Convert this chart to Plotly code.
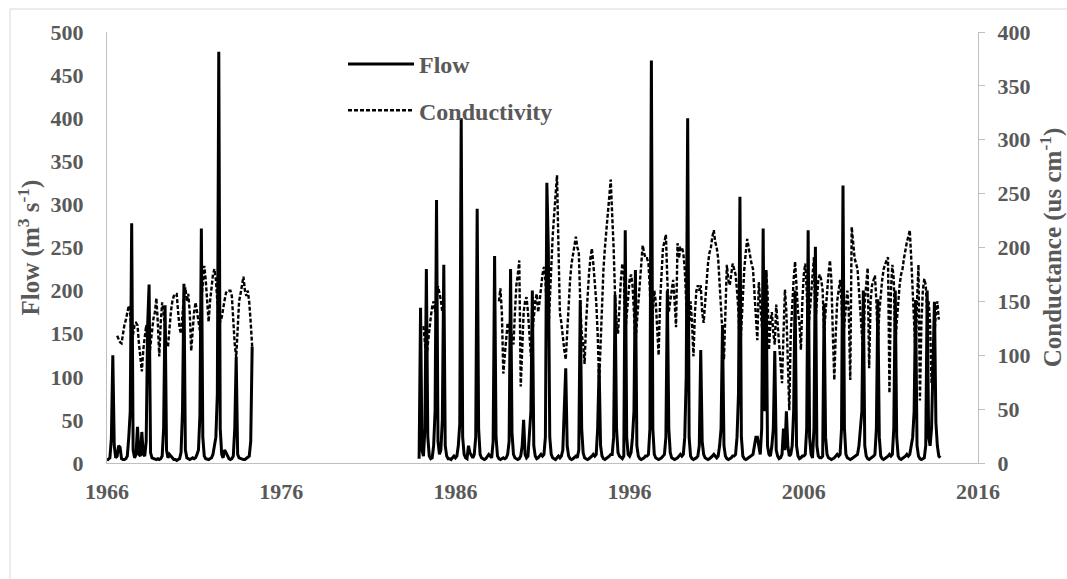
import numpy as np
import plotly.graph_objects as go

# ---------------- data (monthly) ----------------
flow_seg1_start = (1966, 1)
flow_seg1 = [
    3, 4, 6, 28, 125, 20, 6, 8, 20, 18, 5, 4,
    4, 5, 8, 30, 60, 278, 15, 6, 10, 42, 10, 8,
    36, 10, 8, 25, 160, 207, 12, 6, 5, 4, 4, 5,
    4, 5, 8, 40, 183, 15, 6, 10, 8, 5, 4, 4,
    3, 4, 5, 12, 60, 208, 15, 6, 5, 4, 5, 6,
    5, 6, 10, 15, 55, 272, 30, 8, 5, 4, 4, 5,
    6, 10, 20, 30, 80, 477, 40, 10, 6, 15, 12, 8,
    5, 4, 5, 8, 40, 123, 10, 6, 5, 5, 4, 4,
    5, 6, 8, 25, 135,
]

flow_seg2_start = (1983, 12)
flow_seg2 = [
    5,
    180, 15, 8, 40, 225, 30, 8, 5, 6, 20, 60, 305,
    25, 10, 15, 50, 230, 20, 8, 5, 5, 4, 6, 8,
    6, 8, 20, 45, 400, 30, 10, 6, 5, 20, 12, 8,
    6, 10, 30, 295, 40, 10, 6, 5, 4, 5, 8, 10,
    8, 6, 25, 240, 30, 8, 5, 4, 5, 6, 5, 6,
    10, 25, 225, 35, 10, 6, 5, 4, 5, 8, 20, 50,
    10, 6, 8, 30, 60, 200, 20, 8, 5, 6, 8, 10,
    8, 10, 30, 325, 250, 30, 10, 6, 5, 4, 6, 8,
    6, 8, 15, 60, 110, 20, 8, 5, 4, 5, 6, 8,
    6, 15, 189, 40, 12, 6, 5, 4, 5, 6, 8, 10,
    8, 10, 40, 112, 20, 8, 5, 4, 5, 6, 8, 10,
    10, 30, 195, 40, 12, 8, 6, 5, 8, 270, 30, 10,
    8, 12, 30, 60, 224, 20, 8, 5, 4, 5, 6, 8,
    8, 10, 40, 467, 40, 10, 6, 5, 4, 5, 6, 8,
    10, 30, 200, 40, 12, 6, 5, 4, 5, 6, 8, 10,
    8, 10, 30, 100, 400, 30, 8, 5, 4, 5, 6, 8,
    20, 131, 25, 10, 6, 5, 4, 5, 6, 8, 10, 8,
    6, 8, 20, 40, 160, 20, 8, 5, 4, 5, 6, 8,
    8, 10, 30, 80, 309, 30, 8, 5, 4, 5, 6, 8,
    8, 10, 20, 30, 30, 20, 10, 40, 272, 60, 224, 20,
    10, 8, 20, 40, 130, 15, 8, 5, 6, 10, 40, 15,
    60, 20, 8, 10, 20, 60, 200, 20, 8, 5, 6, 8,
    8, 10, 40, 270, 30, 10, 6, 40, 251, 20, 8, 6,
    6, 8, 185, 30, 10, 6, 5, 4, 5, 6, 8, 10,
    8, 10, 40, 322, 40, 10, 6, 5, 4, 5, 6, 8,
    8, 10, 20, 40, 60, 200, 20, 8, 5, 4, 5, 6,
    8, 10, 40, 190, 30, 8, 5, 4, 5, 6, 8, 10,
    8, 10, 40, 200, 30, 8, 5, 4, 5, 6, 8, 10,
    8, 10, 20, 30, 60, 189, 20, 8, 5, 4, 5, 6,
    20, 200, 30, 20, 40, 100, 187, 47, 20, 8, 6,
]

cond_seg1_start = (1966, 8)
cond_seg1 = [
    118, 114, 112, 111, 120,
    128, 133, 140, 146, 140, 110, 120, 128, 130, 128, 111, 100,
    85, 105, 115, 128, 110, 97, 110, 125, 134, 140, 153, 130,
    99, 130, 149, 140, 125, 110, 108, 125, 140, 150, 155, 157,
    157, 140, 125, 120, 140, 155, 163, 150, 157, 140, 104, 125,
    140, 149, 140, 130, 123, 150, 170, 183, 170, 150, 131, 150,
    165, 175, 180, 170, 150, 140, 131, 135, 145, 151, 158, 160,
    160, 160, 155, 130, 110, 98, 120, 150, 157, 165, 173, 160,
    155, 160, 149, 130, 108,
]

cond_seg2_start = (1984, 3)
cond_seg2 = [
    127, 110, 96, 110, 125, 135, 145, 150, 140, 152,
    164, 158, 151, 140,
]

cond_seg3_start = (1988, 7)
cond_seg3 = [
    150, 162, 140, 83, 100, 120,
    130, 125, 115, 120, 110, 140, 165, 175, 188, 71, 110, 140,
    150, 154, 140, 120, 99, 120, 140, 150, 157, 140, 150, 165,
    175, 182, 170, 140, 120, 150, 190, 210, 230, 250, 267, 200,
    139, 130, 115, 105, 96, 120, 150, 170, 185, 195, 205, 210,
    200, 196, 150, 120, 110, 92, 130, 160, 175, 190, 199, 185,
    170, 150, 120, 74, 110, 150, 180, 200, 215, 230, 250, 263,
    230, 200, 154, 130, 120, 150, 170, 185, 180, 120, 140, 160,
    170, 175, 165, 140, 110, 130, 150, 170, 190, 202, 195, 190,
    190, 185, 160, 120, 140, 160, 150, 120, 100, 150, 180, 200,
    205, 212, 170, 140, 150, 160, 170, 150, 126, 204, 190, 200,
    200, 195, 180, 150, 110, 130, 150, 130, 99, 140, 160, 165,
    160, 165, 140, 130, 150, 170, 185, 195, 200, 210, 216, 205,
    200, 190, 170, 140, 120, 96, 150, 184, 170, 165, 175, 185,
    180, 175, 160, 140, 100, 130, 160, 180, 195, 208, 200, 190,
    185, 180, 160, 140, 114, 168, 150, 130, 110, 140, 178, 160,
    105, 130, 140, 120, 110, 147, 130, 110, 90, 74, 120, 161,
    140, 100, 49, 120, 150, 170, 187, 160, 140, 130, 105, 150,
    175, 185, 160, 120, 140, 160, 180, 191, 130, 150, 170, 175,
    170, 160, 120, 140, 160, 175, 188, 170, 120, 77, 120, 150,
    160, 170, 150, 110, 130, 150, 160, 140, 77, 219, 200, 190,
    185, 180, 160, 140, 130, 100, 150, 170, 181, 88, 150, 165,
    170, 174, 150, 110, 140, 160, 170, 180, 185, 188, 191, 65,
    160, 184, 170, 110, 130, 150, 165, 175, 180, 190, 200, 205,
    210, 216, 190, 160, 130, 100, 150, 184, 58, 130, 160, 171,
    165, 140, 150, 130, 74, 100, 120, 140, 150, 133,
]

x_tick_years = [1966, 1976, 1986, 1996, 2006, 2016]
flow_ticks = list(range(0, 501, 50))
cond_ticks = list(range(0, 401, 50))


def decimal_years(start, n):
    y, m = start
    return list(y + (m - 1 + np.arange(n)) / 12.0)


def join_segments(segs):
    xs, ys = [], []
    for i, (start, vals) in enumerate(segs):
        if i > 0:
            xs.append(None)
            ys.append(None)
        xs += decimal_years(start, len(vals))
        ys += list(vals)
    return xs, ys


flow_x, flow_y = join_segments([(flow_seg1_start, flow_seg1), (flow_seg2_start, flow_seg2)])
cond_x, cond_y = join_segments([(cond_seg1_start, cond_seg1), (cond_seg2_start, cond_seg2),
                                (cond_seg3_start, cond_seg3)])

# ---------------- figure ----------------
GREY = "#595959"
AXIS = "#bfbfbf"
FONT = "Liberation Serif"
FS = 22
TFS = 25
LFS = 24

fig = go.Figure()
fig.add_trace(go.Scatter(
    x=flow_x, y=flow_y, mode="lines", name="Flow", legendgroup="f",
    line=dict(color="black", width=3), connectgaps=False, yaxis="y",
))
fig.add_trace(go.Scatter(
    x=cond_x, y=cond_y, mode="lines", name="Conductivity", legendgroup="c",
    line=dict(color="black", width=2.4, dash="4px,2px"), connectgaps=False, yaxis="y2",
))

W, H = 1067, 579
L, R, T, B = 107, 978, 32, 463
fig.update_layout(
    width=W, height=H,
    margin=dict(l=L, r=W - R, t=T, b=H - B, autoexpand=False),
    paper_bgcolor="white", plot_bgcolor="white",
    font=dict(family=FONT, size=FS, color=GREY, weight="bold"),
    showlegend=True,
    legend=dict(
        x=(343 - L) / (R - L), y=(B - 42) / (B - T), xanchor="left", yanchor="top",
        bgcolor="rgba(0,0,0,0)", tracegroupgap=12, itemwidth=66,
        font=dict(family=FONT, size=LFS, color=GREY, weight="bold"),
    ),
    xaxis=dict(
        range=[1966, 2016], tickmode="array", tickvals=x_tick_years,
        ticktext=[str(v) for v in x_tick_years], automargin=False,
        showline=True, linecolor=AXIS, linewidth=1, ticks="", showgrid=False,
        zeroline=False, ticklabelstandoff=9,
        tickfont=dict(family=FONT, size=FS, color=GREY, weight="bold"),
    ),
    yaxis=dict(
        range=[0, 500], tickmode="array", tickvals=flow_ticks, automargin=False,
        showline=True, linecolor=AXIS, linewidth=1, ticks="", showgrid=False,
        zeroline=False, ticklabelstandoff=18,
        tickfont=dict(family=FONT, size=FS, color=GREY, weight="bold"),
        title=dict(text="Flow (m<sup>3</sup> s<sup>-1</sup>)", standoff=3,
                   font=dict(family=FONT, size=TFS, color=GREY, weight="bold")),
    ),
    yaxis2=dict(
        range=[0, 400], tickmode="array", tickvals=cond_ticks, overlaying="y", side="right",
        automargin=False,
        showline=True, linecolor=AXIS, linewidth=1, ticks="outside", ticklen=6,
        tickcolor=AXIS, showgrid=False, zeroline=False, ticklabelstandoff=8,
        tickfont=dict(family=FONT, size=FS, color=GREY, weight="bold"),
        title=dict(text="Conductance (us cm<sup>-1</sup>)", standoff=17,
                   font=dict(family=FONT, size=TFS, color=GREY, weight="bold")),
    ),
)

# light chart-area border
fig.add_shape(
    type="rect", xref="paper", yref="paper",
    x0=(10 - L) / (R - L), x1=(1070 - L) / (R - L),
    y0=(B - 600) / (B - T), y1=(B - 9) / (B - T),
    line=dict(color="#d9d9d9", width=1), fillcolor="rgba(0,0,0,0)", layer="below",
)

fig.write_html("out.html")
